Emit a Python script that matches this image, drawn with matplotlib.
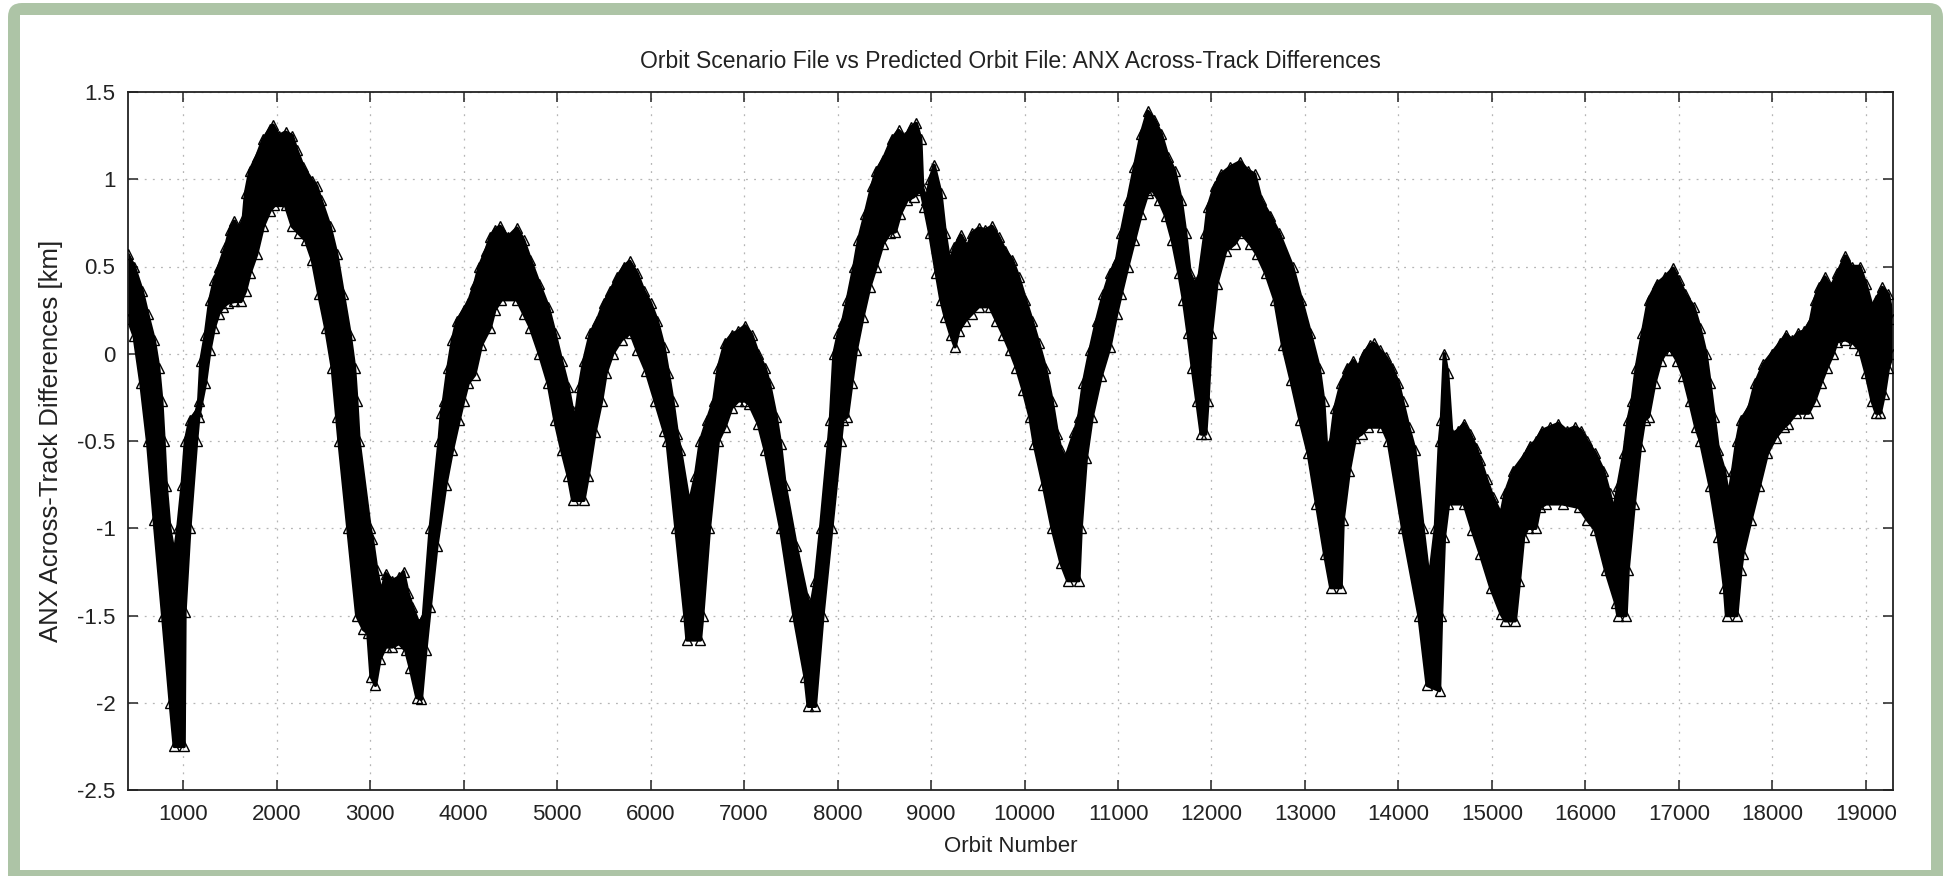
import matplotlib
matplotlib.use("Agg")
import matplotlib.pyplot as plt
from matplotlib.patches import FancyBboxPatch, Rectangle
import numpy as np

plt.rcParams['font.family'] = ['Liberation Sans', 'DejaVu Sans']

# upper envelope of the marker band (orbit number, km)
upper_orbit = [410, 476, 562, 619, 690, 738, 771, 795, 819, 857, 905, 943, 990, 1024, 1071,
               1143, 1167, 1190, 1238, 1286, 1333, 1381, 1452, 1500, 1548, 1595, 1643, 1667,
               1714, 1786, 1857, 1929, 1962, 2024, 2095, 2167, 2214, 2286, 2381, 2429, 2476,
               2571, 2643, 2714, 2786, 2833, 2857, 2881, 3000, 3024, 3071, 3119, 3167, 3238,
               3310, 3357, 3405, 3452, 3524, 3571, 3643, 3738, 3762, 3786, 3833, 3881, 3929,
               4000, 4048, 4119, 4167, 4238, 4286, 4333, 4391, 4476, 4571, 4643, 4714, 4810,
               4905, 4976, 5048, 5119, 5167, 5200, 5238, 5286, 5357, 5429, 5500, 5571, 5643,
               5714, 5776, 5857, 5929, 6000, 6071, 6143, 6190, 6238, 6286, 6319, 6414, 6480,
               6533, 6605, 6676, 6724, 6795, 6867, 6938, 7010, 7081, 7152, 7224, 7271, 7343,
               7390, 7438, 7557, 7676, 7714, 7762, 7819, 7905, 7924, 7962, 8010, 8057, 8105,
               8176, 8224, 8295, 8367, 8414, 8486, 8581, 8652, 8724, 8786, 8843, 8890, 8910,
               8950, 8990, 9033, 9105, 9152, 9200, 9248, 9319, 9390, 9438, 9510, 9581, 9652,
               9724, 9795, 9867, 9938, 10010, 10081, 10152, 10224, 10295, 10352, 10390, 10438,
               10533, 10581, 10629, 10700, 10771, 10843, 10914, 10986, 11033, 11105, 11176,
               11248, 11319, 11390, 11462, 11533, 11605, 11676, 11724, 11771, 11820, 11867,
               11930, 11962, 12033, 12105, 12200, 12305, 12390, 12462, 12533, 12629, 12724,
               12867, 12962, 13057, 13152, 13200, 13232, 13276, 13320, 13386, 13452, 13518,
               13570, 13627, 13693, 13737, 13803, 13868, 13934, 14000, 14044, 14110, 14175,
               14263, 14329, 14395, 14439, 14460, 14491, 14526, 14570, 14636, 14702, 14767,
               14833, 14877, 14943, 15009, 15097, 15140, 15228, 15338, 15404, 15469, 15535,
               15623, 15711, 15798, 15886, 15952, 16018, 16105, 16193, 16259, 16303, 16347,
               16412, 16456, 16500, 16544, 16610, 16675, 16763, 16851, 16939, 17004, 17070,
               17158, 17224, 17290, 17333, 17377, 17421, 17487, 17531, 17575, 17619, 17662,
               17750, 17816, 17904, 17991, 18079, 18145, 18211, 18277, 18342, 18408, 18452,
               18496, 18562, 18628, 18693, 18781, 18847, 18935, 19000, 19066, 19110, 19176,
               19241, 19290]
upper_km = [0.57, 0.50, 0.36, 0.23, 0.08, -0.08, -0.27, -0.50, -0.76, -1.00, -1.15, -1.00,
            -0.75, -0.50, -0.38, -0.33, -0.27, -0.04, 0.11, 0.31, 0.42, 0.50, 0.61, 0.71,
            0.76, 0.71, 0.77, 0.92, 1.05, 1.13, 1.23, 1.29, 1.31, 1.25, 1.27, 1.25, 1.17,
            1.07, 0.99, 0.96, 0.88, 0.73, 0.57, 0.34, 0.11, -0.08, -0.27, -0.50, -1.00,
            -1.06, -1.24, -1.37, -1.26, -1.30, -1.28, -1.25, -1.37, -1.45, -1.55, -1.50,
            -1.00, -0.50, -0.34, -0.27, -0.08, 0.08, 0.19, 0.25, 0.29, 0.40, 0.50, 0.59,
            0.67, 0.71, 0.73, 0.67, 0.72, 0.65, 0.54, 0.40, 0.27, 0.12, -0.04, -0.19, -0.33,
            -0.35, -0.19, -0.04, 0.12, 0.19, 0.29, 0.36, 0.44, 0.50, 0.53, 0.46, 0.36, 0.29,
            0.19, 0.04, -0.11, -0.27, -0.46, -0.55, -0.86, -0.70, -0.50, -0.38, -0.27, -0.08,
            0.06, 0.11, 0.13, 0.16, 0.11, 0.00, -0.08, -0.17, -0.36, -0.52, -0.75, -1.10,
            -1.40, -1.45, -1.30, -1.00, -0.50, -0.38, 0.00, 0.12, 0.19, 0.31, 0.50, 0.65,
            0.80, 0.96, 1.05, 1.11, 1.23, 1.28, 1.24, 1.30, 1.32, 1.23, 0.95, 0.88, 1.00,
            1.08, 0.92, 0.69, 0.52, 0.61, 0.68, 0.61, 0.69, 0.72, 0.71, 0.73, 0.67, 0.59,
            0.54, 0.44, 0.31, 0.19, 0.06, -0.08, -0.27, -0.46, -0.55, -0.60, -0.45, -0.36,
            -0.17, 0.02, 0.19, 0.34, 0.46, 0.54, 0.69, 0.88, 1.07, 1.26, 1.39, 1.34, 1.26,
            1.13, 1.05, 0.88, 0.69, 0.46, 0.40, 0.44, 0.69, 0.84, 0.96, 1.03, 1.07, 1.10,
            1.05, 1.03, 0.88, 0.79, 0.69, 0.50, 0.31, 0.12, -0.08, -0.27, -0.55, -0.50,
            -0.31, -0.17, -0.08, -0.04, -0.08, 0.00, 0.05, 0.06, 0.02, -0.02, -0.08, -0.17,
            -0.27, -0.42, -0.55, -1.00, -1.30, -1.00, -0.50, -0.38, 0.00, -0.11, -0.46,
            -0.44, -0.40, -0.46, -0.54, -0.61, -0.72, -0.82, -0.92, -0.80, -0.67, -0.59,
            -0.53, -0.50, -0.44, -0.42, -0.40, -0.44, -0.42, -0.44, -0.50, -0.57, -0.67,
            -0.80, -0.90, -0.76, -0.57, -0.38, -0.27, -0.08, 0.12, 0.31, 0.40, 0.44, 0.49,
            0.42, 0.34, 0.27, 0.15, 0.00, -0.17, -0.36, -0.55, -0.67, -0.82, -0.67, -0.50,
            -0.38, -0.31, -0.17, -0.06, 0.00, 0.06, 0.11, 0.08, 0.12, 0.13, 0.19, 0.31,
            0.38, 0.44, 0.38, 0.46, 0.56, 0.50, 0.50, 0.40, 0.27, 0.31, 0.38, 0.34, 0.20]

# lower envelope of the marker band (orbit number, km)
lower_orbit = [410, 476, 548, 619, 690, 781, 862, 905, 1010, 1019, 1071, 1143, 1167, 1238,
               1286, 1333, 1381, 1429, 1476, 1548, 1619, 1667, 1714, 1786, 1857, 1929, 1976,
               2095, 2167, 2238, 2310, 2381, 2452, 2524, 2595, 2643, 2667, 2762, 2857, 2929,
               2976, 3010, 3057, 3105, 3167, 3238, 3310, 3381, 3429, 3500, 3548, 3595, 3643,
               3714, 3810, 3881, 3952, 4000, 4048, 4119, 4190, 4286, 4333, 4405, 4571, 4643,
               4714, 4810, 4905, 4976, 5048, 5119, 5167, 5286, 5333, 5405, 5476, 5524, 5595,
               5690, 5786, 5857, 5952, 6048, 6143, 6176, 6271, 6367, 6390, 6533, 6557, 6629,
               6724, 6795, 6867, 6938, 7010, 7057, 7152, 7224, 7390, 7533, 7652, 7686, 7762,
               7843, 7938, 8033, 8057, 8105, 8152, 8200, 8271, 8343, 8414, 8486, 8557, 8619,
               8671, 8743, 8814, 8890, 8930, 8986, 9057, 9105, 9152, 9210, 9257, 9295, 9367,
               9438, 9510, 9629, 9700, 9771, 9843, 9914, 9986, 10057, 10105, 10200, 10295,
               10390, 10462, 10581, 10605, 10660, 10724, 10819, 10914, 10986, 11033, 11105,
               11176, 11248, 11319, 11367, 11438, 11510, 11581, 11652, 11700, 11748, 11795,
               11843, 11890, 11938, 11962, 12000, 12057, 12152, 12248, 12319, 12414, 12486,
               12581, 12676, 12760, 12850, 12947, 13035, 13123, 13211, 13276, 13386, 13408,
               13474, 13540, 13605, 13671, 13825, 13890, 14044, 14219, 14307, 14439, 14460,
               14491, 14535, 14702, 14789, 14877, 14987, 15097, 15140, 15250, 15294, 15338,
               15382, 15469, 15513, 15579, 15755, 15930, 16018, 16105, 16215, 16325, 16347,
               16434, 16456, 16522, 16588, 16632, 16675, 16741, 16807, 16873, 16917, 16982,
               17048, 17114, 17180, 17230, 17333, 17421, 17487, 17509, 17619, 17662, 17684,
               17772, 17860, 17947, 18035, 18123, 18167, 18255, 18386, 18452, 18518, 18584,
               18649, 18693, 18781, 18869, 18935, 19000, 19066, 19110, 19154, 19198, 19241,
               19290]
lower_km = [0.20, 0.10, -0.17, -0.50, -0.95, -1.50, -2.00, -2.25, -2.25, -1.48, -1.00, -0.50,
            -0.36, -0.17, 0.02, 0.15, 0.23, 0.27, 0.29, 0.30, 0.30, 0.36, 0.46, 0.57, 0.73,
            0.82, 0.85, 0.85, 0.73, 0.69, 0.65, 0.54, 0.34, 0.15, -0.08, -0.36, -0.50,
            -1.00, -1.50, -1.58, -1.60, -1.85, -1.90, -1.75, -1.68, -1.68, -1.66, -1.70,
            -1.80, -1.97, -1.98, -1.70, -1.45, -1.10, -0.75, -0.55, -0.38, -0.27, -0.17,
            -0.12, 0.05, 0.15, 0.25, 0.31, 0.31, 0.23, 0.15, 0.00, -0.17, -0.38, -0.55,
            -0.70, -0.84, -0.84, -0.70, -0.45, -0.27, -0.11, 0.00, 0.08, 0.12, 0.02, -0.10,
            -0.27, -0.44, -0.50, -1.00, -1.50, -1.64, -1.64, -1.50, -1.00, -0.50, -0.42,
            -0.31, -0.27, -0.27, -0.29, -0.40, -0.55, -1.00, -1.50, -1.85, -2.02, -2.02,
            -1.50, -1.00, -0.50, -0.38, -0.36, -0.17, 0.02, 0.21, 0.38, 0.50, 0.63, 0.69,
            0.70, 0.80, 0.88, 0.90, 0.94, 0.84, 0.69, 0.46, 0.31, 0.21, 0.11, 0.04, 0.13,
            0.19, 0.23, 0.27, 0.27, 0.19, 0.11, 0.02, -0.08, -0.21, -0.36, -0.52, -0.75,
            -1.00, -1.20, -1.30, -1.30, -1.00, -0.60, -0.36, -0.13, 0.04, 0.23, 0.34, 0.50,
            0.65, 0.80, 0.92, 0.94, 0.88, 0.79, 0.65, 0.46, 0.31, 0.12, -0.08, -0.27, -0.46,
            -0.46, -0.27, 0.12, 0.40, 0.59, 0.63, 0.69, 0.63, 0.57, 0.46, 0.31, 0.05, -0.15,
            -0.38, -0.57, -0.86, -1.15, -1.34, -1.34, -0.95, -0.67, -0.48, -0.46, -0.42,
            -0.42, -0.50, -1.00, -1.50, -1.90, -1.93, -1.50, -1.05, -0.86, -0.86, -1.01,
            -1.15, -1.34, -1.49, -1.53, -1.53, -1.30, -1.05, -1.00, -1.00, -0.88, -0.86,
            -0.86, -0.88, -0.95, -1.01, -1.24, -1.43, -1.50, -1.50, -1.24, -0.86, -0.53,
            -0.38, -0.36, -0.17, -0.04, 0.02, 0.02, -0.04, -0.13, -0.27, -0.42, -0.50,
            -0.76, -1.05, -1.34, -1.50, -1.50, -1.24, -1.15, -0.95, -0.76, -0.57, -0.48,
            -0.42, -0.40, -0.34, -0.34, -0.27, -0.17, -0.08, 0.00, 0.07, 0.08, 0.06, 0.02,
            -0.11, -0.27, -0.34, -0.34, -0.23, -0.08, 0.00]

x_ticks = [1000, 2000, 3000, 4000, 5000, 6000, 7000, 8000, 9000, 10000, 11000, 12000,
           13000, 14000, 15000, 16000, 17000, 18000, 19000]
y_ticks = [-2.5, -2, -1.5, -1, -0.5, 0, 0.5, 1, 1.5]
y_tick_labels = ['-2.5', '-2', '-1.5', '-1', '-0.5', '0', '0.5', '1', '1.5']

W, H = 1945, 876
fig = plt.figure(figsize=(W / 100, H / 100), dpi=100)

# green rounded frame around the plot
bg = fig.add_axes([0, 0, 1, 1], zorder=0)
bg.set_xlim(0, W)
bg.set_ylim(H, 0)
bg.axis('off')
bg.add_patch(FancyBboxPatch((8, 3), 1935, 900, boxstyle='round,pad=0,rounding_size=14',
                            fc='#adc4a6', ec='none'))
bg.add_patch(Rectangle((20, 15), 1911, 855, fc='white', ec='none'))

ax = fig.add_axes([128 / W, 86 / H, 1765 / W, 698 / H], zorder=1)
ax.set_facecolor('white')

band_x = np.concatenate([upper_orbit, lower_orbit[::-1]])
band_y = np.concatenate([upper_km, lower_km[::-1]])
ax.fill(band_x, band_y, color='black', lw=2.5, ec='black', joinstyle='round', zorder=2)
ax.plot(upper_orbit, upper_km, '^', mfc='none', mec='black', ms=6.5, mew=1.0, zorder=3)
ax.plot(lower_orbit, lower_km, '^', mfc='none', mec='black', ms=6.5, mew=1.0, zorder=3)

ax.set_xlim(410, 19290)
ax.set_ylim(-2.5, 1.5)
ax.set_xticks(x_ticks)
ax.set_xticklabels([str(t) for t in x_ticks])
ax.set_yticks(y_ticks)
ax.set_yticklabels(y_tick_labels)

ax.grid(True, linestyle=(0, (1.5, 5)), color='#b5b5b5', linewidth=0.9)
ax.set_axisbelow(True)
ax.tick_params(direction='in', length=7, width=1.1, top=True, right=True,
               labelsize=16, colors='#222222')
ax.tick_params(axis='x', pad=10)
ax.tick_params(axis='y', pad=9)
for sp in ax.spines.values():
    sp.set_linewidth(1.3)
    sp.set_color('#222222')

ax.set_title("Orbit Scenario File vs Predicted Orbit File: ANX Across-Track Differences",
             fontsize=16.5, pad=17, color='#222222')
ax.set_xlabel("Orbit Number", fontsize=16, labelpad=8, color='#222222')
ax.set_ylabel("ANX Across-Track Differences [km]", fontsize=18.5, labelpad=10,
              color='#222222')

fig.savefig('out.png', dpi=100)
